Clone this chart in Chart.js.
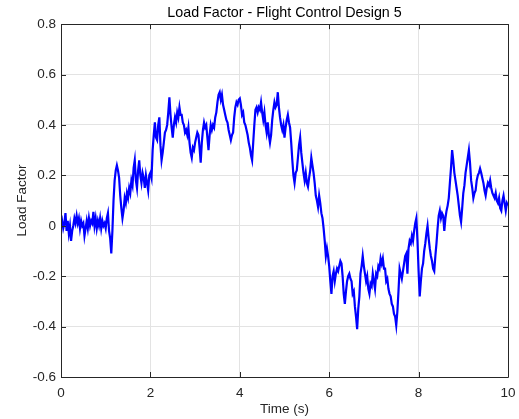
<!DOCTYPE html>
<html>
<head>
<meta charset="utf-8">
<script src="https://cdn.jsdelivr.net/npm/chart.js@4"></script>
<style>
  html, body { margin: 0; padding: 0; background: #fff; }
  #wrap { width: 519px; height: 419px; }
</style>
</head>
<body>
<div id="wrap"><canvas id="chart" width="519" height="419"></canvas></div>
<script>
// Load factor, one sample every 0.025 s from 0 to 10 s
// (each row below covers half a second)
const timeStep = 0.025;
const loadFactor = [
    0.00, 0.02, -0.01, 0.01, 0.05, -0.02, 0.02, -0.03, 0.00, -0.06, -0.02, 0.00, 0.03, 0.01, 0.04, 0.01, 0.03, -0.01, 0.02, 0.00,
    0.01, -0.04, -0.01, 0.02, -0.01, 0.03, 0.00, 0.02, 0.01, 0.055, 0.00, 0.03, -0.01, 0.02, 0.00, 0.03, -0.01, 0.02, 0.00, 0.01,
    -0.01, 0.03, 0.05, -0.02, -0.05, -0.11, -0.02, 0.10, 0.18, 0.22, 0.24, 0.22, 0.19, 0.12, 0.07, 0.03, 0.06, 0.11, 0.09, 0.13,
    0.11, 0.15, 0.13, 0.18, 0.16, 0.23, 0.26, 0.18, 0.15, 0.22, 0.26, 0.20, 0.17, 0.21, 0.19, 0.15, 0.20, 0.17, 0.14, 0.20,
    0.21, 0.19, 0.30, 0.36, 0.41, 0.35, 0.34, 0.40, 0.43, 0.32, 0.26, 0.29, 0.33, 0.37, 0.38, 0.40, 0.45, 0.51, 0.44, 0.39,
    0.35, 0.40, 0.43, 0.41, 0.45, 0.43, 0.47, 0.44, 0.44, 0.41, 0.40, 0.37, 0.38, 0.36, 0.39, 0.33, 0.29, 0.27, 0.31, 0.30,
    0.33, 0.35, 0.37, 0.36, 0.31, 0.25, 0.33, 0.38, 0.41, 0.39, 0.40, 0.35, 0.30, 0.36, 0.40, 0.38, 0.40, 0.39, 0.43, 0.45,
    0.49, 0.52, 0.53, 0.50, 0.52, 0.48, 0.46, 0.44, 0.42, 0.41, 0.38, 0.36, 0.34, 0.36, 0.37, 0.43, 0.47, 0.49, 0.48, 0.50,
    0.505, 0.48, 0.44, 0.45, 0.41, 0.40, 0.38, 0.36, 0.33, 0.31, 0.28, 0.26, 0.33, 0.40, 0.46, 0.47, 0.45, 0.47, 0.46, 0.49,
    0.45, 0.42, 0.45, 0.40, 0.37, 0.41, 0.36, 0.33, 0.36, 0.42, 0.46, 0.49, 0.47, 0.48, 0.53, 0.47, 0.43, 0.40, 0.38, 0.40,
    0.35, 0.39, 0.42, 0.44, 0.41, 0.39, 0.33, 0.26, 0.20, 0.17, 0.21, 0.22, 0.27, 0.32, 0.35, 0.29, 0.25, 0.21, 0.18, 0.21,
    0.17, 0.155, 0.19, 0.22, 0.27, 0.24, 0.21, 0.17, 0.12, 0.10, 0.075, 0.12, 0.09, 0.05, 0.03, -0.01, -0.06, -0.12, -0.09, -0.12,
    -0.16, -0.22, -0.27, -0.20, -0.18, -0.22, -0.19, -0.17, -0.18, -0.16, -0.14, -0.15, -0.20, -0.27, -0.31, -0.26, -0.22, -0.20, -0.19, -0.21,
    -0.22, -0.27, -0.26, -0.32, -0.36, -0.41, -0.33, -0.28, -0.19, -0.16, -0.12, -0.16, -0.19, -0.22, -0.20, -0.25, -0.27, -0.23, -0.24, -0.19,
    -0.22, -0.25, -0.19, -0.20, -0.16, -0.17, -0.13, -0.15, -0.13, -0.17, -0.17, -0.22, -0.21, -0.25, -0.27, -0.28, -0.31, -0.32, -0.35, -0.36,
    -0.395, -0.34, -0.26, -0.17, -0.19, -0.21, -0.18, -0.15, -0.12, -0.11, -0.19, -0.09, -0.06, -0.07, -0.04, -0.06, -0.02, 0.01, 0.03, -0.06,
    -0.18, -0.28, -0.22, -0.17, -0.15, -0.10, -0.07, -0.03, 0.00, -0.05, -0.09, -0.12, -0.14, -0.17, -0.18, -0.12, -0.07, -0.01, 0.04, 0.06,
    0.03, 0.05, 0.04, -0.02, 0.03, 0.06, 0.08, 0.11, 0.17, 0.23, 0.30, 0.26, 0.21, 0.18, 0.15, 0.12, 0.08, 0.04, 0.015, 0.07,
    0.13, 0.16, 0.21, 0.24, 0.27, 0.30, 0.25, 0.18, 0.15, 0.11, 0.13, 0.14, 0.18, 0.20, 0.21, 0.227, 0.21, 0.19, 0.17, 0.14,
    0.12, 0.15, 0.17, 0.16, 0.18, 0.15, 0.13, 0.12, 0.11, 0.13, 0.10, 0.09, 0.11, 0.07, 0.06, 0.10, 0.12, 0.09, 0.06, 0.09,
    0.08
];
const xTicks = [0, 2, 4, 6, 8, 10];
const yTicks = [-0.6, -0.4, -0.2, 0, 0.2, 0.4, 0.6, 0.8];

const chartTitle = 'Load Factor - Flight Control Design 5';
const xLabel = 'Time (s)';
const yLabel = 'Load Factor';

const axisColor = '#262626';
const gridColor = '#e3e3e3';
const fontFamily = 'Helvetica, "Liberation Sans", Arial, sans-serif';

// Build points for the linear x axis
const points = loadFactor.map(function(v, i) {
    return { x: +(i * timeStep).toFixed(3), y: v };
});

// MATLAB style box with inward ticks on all four sides
const boxPlugin = {
    id: 'box',
    afterDraw: function(chart) {
        const ctx = chart.ctx;
        const area = chart.chartArea;
        const xs = chart.scales.x;
        const ys = chart.scales.y;
        const len = 5;
        ctx.save();
        ctx.strokeStyle = axisColor;
        ctx.lineWidth = 1;
        ctx.beginPath();
        ctx.rect(Math.round(area.left) + 0.5, Math.round(area.top) + 0.5,
                 Math.round(area.right - area.left), Math.round(area.bottom - area.top));
        xTicks.forEach(function(t) {
            const px = Math.round(xs.getPixelForValue(t)) + 0.5;
            ctx.moveTo(px, area.bottom);
            ctx.lineTo(px, area.bottom - len);
            ctx.moveTo(px, area.top);
            ctx.lineTo(px, area.top + len);
        });
        yTicks.forEach(function(t) {
            const py = Math.round(ys.getPixelForValue(t)) + 0.5;
            ctx.moveTo(area.left, py);
            ctx.lineTo(area.left + len, py);
            ctx.moveTo(area.right, py);
            ctx.lineTo(area.right - len, py);
        });
        ctx.stroke();
        ctx.restore();
    }
};

const chart = new Chart(document.getElementById('chart'), {
    type: 'line',
    data: {
        datasets: [
            {
                label: yLabel,
                data: points,
                borderColor: '#0000ff',
                borderWidth: 2.2,
                pointRadius: 0,
                tension: 0,
                fill: false
            }
        ]
    },
    options: {
        responsive: false,
        animation: false,
        layout: {
            padding: { left: 0, right: 11, top: 0, bottom: 0 }
        },
        plugins: {
            legend: { display: false },
            tooltip: { enabled: false },
            title: {
                display: true,
                text: chartTitle,
                fullSize: false,
                color: '#000',
                font: { family: fontFamily, size: 14.3, weight: 'normal' },
                padding: { top: 4, bottom: 3 }
            }
        },
        scales: {
            x: {
                type: 'linear',
                min: 0,
                max: 10,
                afterBuildTicks: function(scale) {
                    scale.ticks = xTicks.map(function(v) { return { value: v }; });
                },
                afterFit: function(scale) {
                    scale.height = 42;
                    scale.paddingLeft = 0;
                    scale.paddingRight = 0;
                },
                grid: { color: gridColor, drawTicks: false },
                border: { display: false },
                ticks: {
                    color: '#262626',
                    padding: 8,
                    maxRotation: 0,
                    font: { family: fontFamily, size: 13.5 }
                },
                title: {
                    display: true,
                    text: xLabel,
                    color: '#262626',
                    font: { family: fontFamily, size: 13.5 },
                    padding: { top: 0, bottom: 2 }
                }
            },
            y: {
                min: -0.6,
                max: 0.8,
                afterBuildTicks: function(scale) {
                    scale.ticks = yTicks.map(function(v) { return { value: v }; });
                },
                afterFit: function(scale) { scale.width = 61; },
                grid: { color: gridColor, drawTicks: false },
                border: { display: false },
                ticks: {
                    color: '#262626',
                    padding: 5,
                    font: { family: fontFamily, size: 13.5 },
                    callback: function(value) {
                        return Math.abs(value) < 1e-9 ? '0' : value.toFixed(1);
                    }
                },
                title: {
                    display: true,
                    text: yLabel,
                    color: '#262626',
                    font: { family: fontFamily, size: 13.5 },
                    padding: { top: 14, bottom: 0 }
                }
            }
        }
    },
    plugins: [boxPlugin]
});
</script>
</body>
</html>
